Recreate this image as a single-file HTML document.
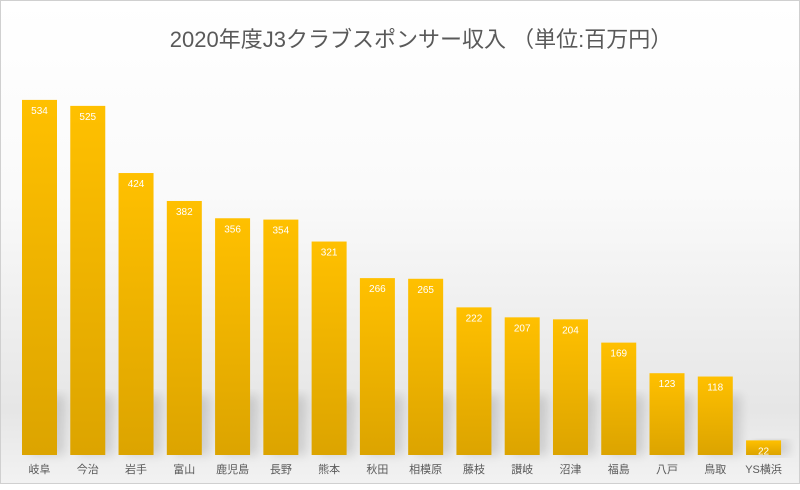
<!DOCTYPE html>
<html><head><meta charset="utf-8"><style>
body{margin:0;width:800px;height:484px;overflow:hidden;font-family:"Liberation Sans","Noto Sans CJK JP",sans-serif;}
#c{position:absolute;left:0;top:0;width:798px;height:482px;border:1px solid #d0d0d0;background:linear-gradient(180deg,#ffffff 0%,#fafafa 40%,#e6e6e6 85%,#f2f2f2 100%);}
</style></head><body>
<div id="c">
<svg id="s" width="800" height="484" xmlns="http://www.w3.org/2000/svg">
<defs>
<linearGradient id="g" x1="0" y1="0" x2="0" y2="1"><stop offset="0" stop-color="#ffc000"/><stop offset="1" stop-color="#dca400"/></linearGradient>
<filter id="sh" x="-50%" y="-10%" width="200%" height="130%"><feGaussianBlur stdDeviation="5"/></filter>
</defs>
<text x="420" y="46" text-anchor="middle" font-size="22" fill="#595959">2020年度J3クラブスポンサー収入 （単位:百万円）</text>
<g id="bars"></g>
</svg>
</div>
<script>
const categories=["岐阜","今治","岩手","富山","鹿児島","長野","熊本","秋田","相模原","藤枝","讃岐","沼津","福島","八戸","鳥取","YS横浜"];
const values=[534,525,424,382,356,354,321,266,265,222,207,204,169,123,118,22];
const ns="http://www.w3.org/2000/svg";
const g=document.getElementById('bars');
const base=454, scale=0.665, x0=21, pitch=48.27, bw=35;
function y(v){return base-v*scale;}
function x(i){return x0+i*pitch;}
values.forEach((v,i)=>{
  const sh=document.createElementNS(ns,'rect');
  
  
  sh.setAttribute('x',x(i)+8);sh.setAttribute('y',base-Math.min(v*scale,60));
  sh.setAttribute('width',bw);sh.setAttribute('height',Math.min(v*scale,60));
  sh.setAttribute('fill','#000');sh.setAttribute('opacity','0.12');sh.setAttribute('filter','url(#sh)');
  g.appendChild(sh);
});
values.forEach((v,i)=>{
  const r=document.createElementNS(ns,'rect');
  
  
  r.setAttribute('x',x(i));r.setAttribute('y',y(v));r.setAttribute('width',bw);r.setAttribute('height',v*scale);
  r.setAttribute('fill','url(#g)');
  g.appendChild(r);
  const t=document.createElementNS(ns,'text');
  
  
  t.setAttribute('x',x(i)+bw/2);t.setAttribute('y',y(v)+14);t.setAttribute('text-anchor','middle');
  t.setAttribute('font-size','10');t.setAttribute('fill','#fff');
  t.textContent=v;g.appendChild(t);
  const c=document.createElementNS(ns,'text');
  
  
  c.setAttribute('x',x(i)+bw/2);c.setAttribute('y',472);c.setAttribute('text-anchor','middle');
  c.setAttribute('font-size','11');c.setAttribute('fill','#595959');
  c.textContent=categories[i];g.appendChild(c);
});
</script>
</body></html>
